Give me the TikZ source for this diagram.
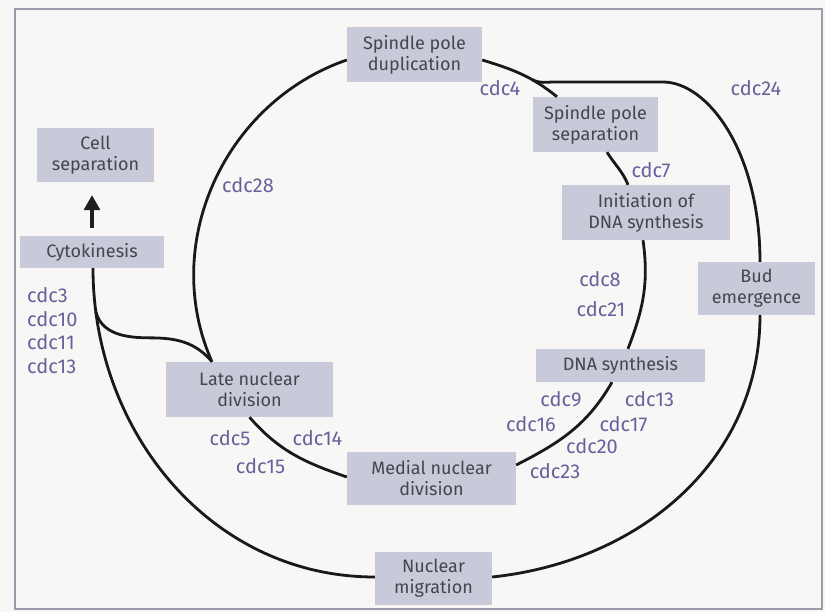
\documentclass[tikz,border=0pt]{standalone}
\usepackage{fontspec}
\setmainfont{Fira Sans}
\usetikzlibrary{arrows.meta}
\definecolor{stagefill}{HTML}{C9CAD9}
\definecolor{stagetext}{HTML}{45454F}
\definecolor{genetext}{HTML}{6A5F9C}
\definecolor{framegray}{HTML}{9A9AAA}
\definecolor{paper}{HTML}{F8F7F5}

\begin{document}
\begin{tikzpicture}[
  x=1pt, y=1pt,
  stage/.style={fill=stagefill, text=stagetext, inner sep=0pt, align=center,
                font=\fontsize{18}{21}\selectfont},
  gene/.style={text=genetext, inner sep=0pt, font=\fontsize{20}{23}\selectfont},
  cyc/.style={line width=2.8pt, draw=black!90},
  push/.style={line width=3.2pt, draw=black!88, -{Triangle[width=16pt,length=15pt]},
               shorten <=8pt, shorten >=13pt}
]

\fill[paper] (0,0) rectangle (825,612);
\draw[framegray, line width=1.4pt] (15,3) rectangle (822,603);

% stages of the cycle
\foreach \nm/\x/\y/\w/\h/\txt in {
    spd/414.5/557.5/135/55/{Spindle pole\\duplication},
    sps/595.5/487.5/125/55/{Spindle pole\\separation},
    ids/646/399.5/168/55/{Initiation of\\DNA synthesis},
    bud/756.5/323.5/117/53/{Bud\\emergence},
    dna/620.5/246.5/169/33/{DNA synthesis},
    mnd/431.5/133.5/169/53/{Medial nuclear\\division},
    nmg/433.5/33.5/117/53/{Nuclear\\migration},
    lnd/249.5/222.5/167/55/{Late nuclear\\division},
    cyt/92/360/144/32/{Cytokinesis},
    cel/95.5/457/117/54/{Cell\\separation}}{
  \node[stage, minimum width=\w pt, minimum height=\h pt] (\nm) at (\x,\y) {\txt};
}

% inner cycle
\draw[cyc] ([yshift=-5.5pt]spd.east) to[out=-17,in=141]
  node[coordinate, pos=0.66] (split) {} ([xshift=-38.5pt]sps.north);
\draw[cyc] ([xshift=11.5pt]sps.south) to[out=-58,in=112] ([xshift=-18pt]ids.north);
\draw[cyc] ([xshift=-3pt]ids.south) to[out=-82,in=69] ([xshift=7.5pt]dna.north);
\draw[cyc] ([xshift=-8.5pt]dna.south) to[out=-120,in=27] ([yshift=13.5pt]mnd.east);
\draw[cyc] ([yshift=1.5pt]mnd.west) to[out=161,in=-49] (lnd.south);
\draw[cyc] ([xshift=-37.5pt]lnd.north) to[out=114,in=199] ([yshift=-5.5pt]spd.west);

% outer cycle
\draw[cyc] (split) to[out=-25,in=180] ++(22,-2) -- ++(108,0)
  .. controls +(45,0) and +(0,110) .. ([xshift=3.5pt]bud.north);
\draw[cyc] ([yshift=1.5pt]nmg.east) to[out=6,in=-90] ([xshift=3.5pt]bud.south);
\draw[cyc] ([xshift=1pt]cyt.south) to[out=-90,in=180]
  node[coordinate, pos=0.09] (fork) {} ([yshift=1.5pt]nmg.west);
\draw[cyc] (fork) to[out=-75,in=180] ++(54,-26) to[out=0,in=130] ([xshift=-37.5pt]lnd.north);

\draw[push] (cyt.north) -- (cyt.north |- cel.south);

% genes
\foreach \nm/\x/\y/\txt in {
    g28/248/427/cdc28, g4/500/524/cdc4, g24/756/524/cdc24, g7/651/442/cdc7,
    g8/600/333/cdc8, g21/601/303/cdc21,
    g5/230/173.5/cdc5, g14/317.5/174/cdc14, g15/260.5/145.5/cdc15,
    g9/561/212.5/cdc9, g13b/649.5/212.5/cdc13, g16/531/188/cdc16,
    g17/623.5/188/cdc17, g20/592/165.5/cdc20, g23/555/141/cdc23}{
  \node[gene] (\nm) at (\x,\y) {\txt};
}
\foreach \nm/\y/\txt in {g3/317/cdc3, g10/293/cdc10, g11/270/cdc11, g13a/246/cdc13}{
  \node[gene, anchor=west] (\nm) at (27,\y) {\txt};
}

\end{tikzpicture}
\end{document}
